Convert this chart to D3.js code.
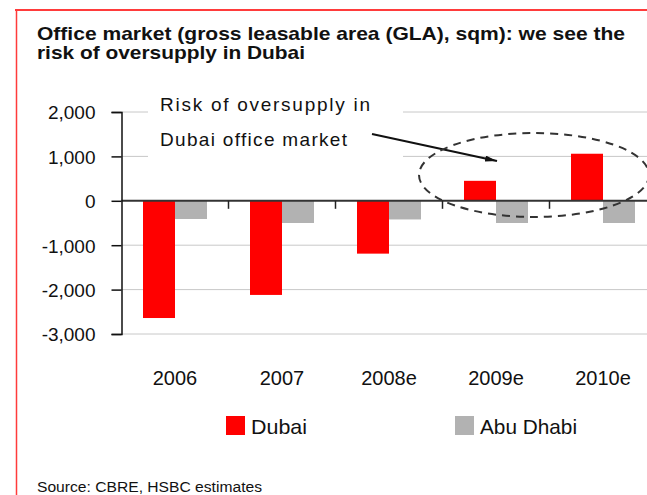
<!DOCTYPE html>
<html>
<head>
<meta charset="utf-8">
<script src="https://cdn.jsdelivr.net/npm/d3@7"></script>
<style>
  body { margin: 0; background: #fff; }
  svg { display: block; font-family: Arial, "Liberation Sans", sans-serif; }
</style>
</head>
<body>
<svg width="647" height="495"></svg>
<script>
// data
var years = ["2006", "2007", "2008e", "2009e", "2010e"];
var seriesNames = ["Dubai", "Abu Dhabi"];
var dubai = [-2640, -2120, -1190, 450, 1060];
var abuDhabi = [-410, -500, -420, -500, -500];
var yTicks = [2000, 1000, 0, -1000, -2000, -3000];
var colors = ["#ff0000", "#b2b2b2"];

var svg = d3.select('svg');

// red frame
svg.append('line')
    .attr('x1', 15).attr('x2', 647).attr('y1', 10).attr('y2', 10)
    .attr('stroke', '#ff3b3b').attr('stroke-width', 2);
svg.append('line')
    .attr('x1', 16.5).attr('x2', 16.5).attr('y1', 10).attr('y2', 495)
    .attr('stroke', '#ff3b3b').attr('stroke-width', 1.5);

// title
svg.append('text')
    .attr('x', 37).attr('y', 40)
    .attr('font-size', '19px').attr('font-weight', 'bold').attr('fill', '#111')
    .attr('textLength', 588).attr('lengthAdjust', 'spacingAndGlyphs')
    .text('Office market (gross leasable area (GLA), sqm): we see the');
svg.append('text')
    .attr('x', 37).attr('y', 59)
    .attr('font-size', '19px').attr('font-weight', 'bold').attr('fill', '#111')
    .attr('textLength', 268).attr('lengthAdjust', 'spacingAndGlyphs')
    .text('risk of oversupply in Dubai');

var x0 = 121.5, catW = 107;
var x = d3.scaleBand().domain(years).range([x0, x0 + catW * years.length]).padding(0);
var y = d3.scaleLinear().domain([-3000, 2000]).range([334, 112]);
var barW = 32;
var xs = d3.scaleBand().domain(seriesNames)
    .range([x.bandwidth() / 2 - barW, x.bandwidth() / 2 + barW]).padding(0);

var plot = svg.append('g');

// gridlines
plot.append('g').selectAll('line')
    .data(yTicks.filter(function(d) { return d !== 0; }))
    .enter().append('line')
    .attr('x1', x0).attr('x2', 647)
    .attr('y1', function(d) { return y(d); })
    .attr('y2', function(d) { return y(d); })
    .attr('stroke', '#c8c8c8').attr('stroke-width', 1);

// white box behind the annotation
plot.append('rect')
    .attr('x', 148).attr('y', 88).attr('width', 255).attr('height', 72)
    .attr('fill', '#fff');

// bars
var rows = years.map(function(yr, i) {
    return {year: yr, vals: [{s: 'Dubai', v: dubai[i]}, {s: 'Abu Dhabi', v: abuDhabi[i]}]};
});
var groups = plot.selectAll('g.cat')
    .data(rows)
    .enter().append('g')
    .attr('class', 'cat')
    .attr('transform', function(d) { return 'translate(' + x(d.year) + ',0)'; });
groups.selectAll('rect')
    .data(function(d) { return d.vals; })
    .enter().append('rect')
    .attr('x', function(d) { return xs(d.s); })
    .attr('width', xs.bandwidth())
    .attr('y', function(d) { return y(Math.max(0, d.v)); })
    .attr('height', function(d) { return Math.abs(y(d.v) - y(0)); })
    .attr('fill', function(d, i) { return colors[i]; });

// zero line
plot.append('line')
    .attr('x1', x0).attr('x2', 647).attr('y1', y(0)).attr('y2', y(0))
    .attr('stroke', '#333').attr('stroke-width', 2);

// category ticks below zero line
plot.append('g').selectAll('line')
    .data(years.slice(1))
    .enter().append('line')
    .attr('x1', function(d) { return x(d); })
    .attr('x2', function(d) { return x(d); })
    .attr('y1', y(0)).attr('y2', y(0) + 8)
    .attr('stroke', '#222').attr('stroke-width', 1.5);

// y axis
var fmt = d3.format(',');
var yAxis = d3.axisLeft(y).tickValues(yTicks).tickSize(10).tickPadding(16)
    .tickFormat(function(d) { return fmt(d).replace('\u2212', '-'); });
var ya = plot.append('g').attr('transform', 'translate(' + x0 + ',0)').call(yAxis);
ya.select('.domain').attr('stroke', '#111').attr('stroke-width', 1.5);
ya.selectAll('.tick line').attr('stroke', '#111').attr('stroke-width', 1.5);
ya.selectAll('.tick text')
    .attr('font-size', '19px').attr('fill', '#111')
    .attr('font-family', 'Arial, "Liberation Sans", sans-serif')
    .attr('dy', '0.36em');

// category labels
plot.append('g').selectAll('text')
    .data(years)
    .enter().append('text')
    .attr('x', function(d) { return x(d) + x.bandwidth() / 2; })
    .attr('y', 385)
    .attr('text-anchor', 'middle')
    .attr('font-size', '20px').attr('fill', '#111')
    .text(function(d) { return d; });

// annotation
svg.append('text')
    .attr('x', 160).attr('y', 111)
    .attr('font-size', '19px').attr('fill', '#111')
    .attr('textLength', 210).attr('lengthAdjust', 'spacing')
    .text('Risk of oversupply in');
svg.append('text')
    .attr('x', 160).attr('y', 146)
    .attr('font-size', '19px').attr('fill', '#111')
    .attr('textLength', 187).attr('lengthAdjust', 'spacing')
    .text('Dubai office market');

svg.append('defs').append('marker')
    .attr('id', 'arrow')
    .attr('viewBox', '0 0 12 6')
    .attr('refX', 12).attr('refY', 3)
    .attr('markerWidth', 12).attr('markerHeight', 6)
    .attr('markerUnits', 'userSpaceOnUse')
    .attr('orient', 'auto')
    .append('path')
    .attr('d', 'M0,0 L12,3 L0,6 Z')
    .attr('fill', '#111');
svg.append('line')
    .attr('x1', 372).attr('y1', 134).attr('x2', 497).attr('y2', 161)
    .attr('stroke', '#111').attr('stroke-width', 2.2)
    .attr('marker-end', 'url(#arrow)');

svg.append('ellipse')
    .attr('cx', 534).attr('cy', 175).attr('rx', 115).attr('ry', 42)
    .attr('fill', 'none').attr('stroke', '#333').attr('stroke-width', 2)
    .attr('stroke-dasharray', '8,6');

// legend
var legX = [226, 455];
var leg = svg.append('g').selectAll('g')
    .data(seriesNames)
    .enter().append('g')
    .attr('transform', function(d, i) { return 'translate(' + legX[i] + ',416)'; });
leg.append('rect')
    .attr('width', 19).attr('height', 19)
    .attr('fill', function(d, i) { return colors[i]; });
leg.append('text')
    .attr('x', 25).attr('y', 18)
    .attr('font-size', '21px').attr('fill', '#111')
    .attr('textLength', function(d, i) { return [56, 97][i]; })
    .attr('lengthAdjust', 'spacingAndGlyphs')
    .text(function(d) { return d; });

// source
svg.append('text')
    .attr('x', 37).attr('y', 492)
    .attr('font-size', '14px').attr('fill', '#111')
    .attr('textLength', 225).attr('lengthAdjust', 'spacingAndGlyphs')
    .text('Source: CBRE, HSBC estimates');
</script>
</body>
</html>
